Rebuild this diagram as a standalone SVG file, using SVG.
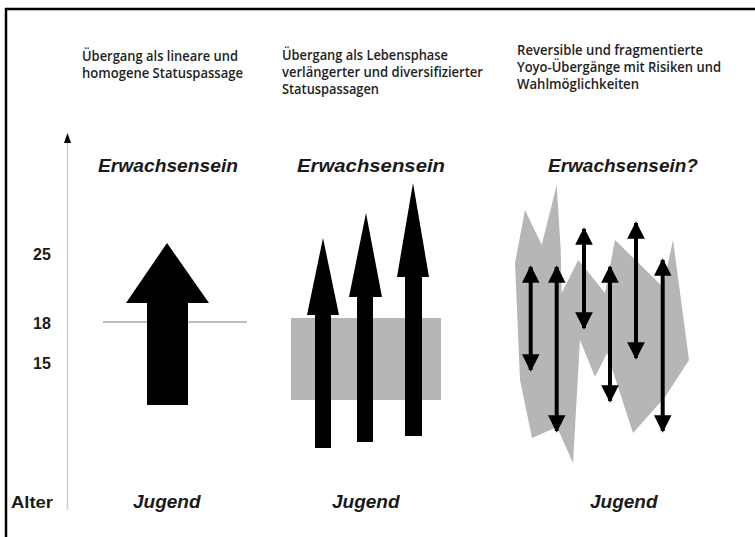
<svg xmlns="http://www.w3.org/2000/svg" width="755" height="537" viewBox="0 0 755 537">
<style>
.hdr{font-family:"Open Sans","Liberation Sans",Arial,sans-serif;font-size:13.5px;font-weight:600;fill:#1e1e1e}
.big{font-family:"Liberation Sans",Arial,sans-serif;font-size:19px;font-weight:bold;font-style:italic;fill:#1a1a1a}
.num{font-family:"Liberation Sans",Arial,sans-serif;font-size:16px;font-weight:bold;fill:#1a1a1a}
.blk{fill:#000}
.gray{fill:#b6b6b6}
</style>
<defs>
<marker id="ah" viewBox="0 0 10 10" refX="9" refY="5" markerWidth="4.4" markerHeight="4.4" orient="auto-start-reverse" markerUnits="strokeWidth">
<path d="M0,0 L10,5 L0,10 z" fill="#000"/>
</marker>
</defs>
<rect width="755" height="537" fill="#fff"/>
<g id="frame">
<path d="M6,537 L6,9 L755,9" fill="none" stroke="#000" stroke-width="2.5"/>
</g>
<g id="axis">
<line x1="67.5" y1="510" x2="67.5" y2="140" stroke="#cfcfcf" stroke-width="1.5"/>
<path d="M64,143 L67.5,133 L71,143 z" fill="#000"/>
<text class="num" x="33" y="260">25</text>
<text class="num" x="33" y="329">18</text>
<text class="num" x="33" y="369">15</text>
<text class="num" x="11" y="508" style="font-size:17px" textLength="42" lengthAdjust="spacingAndGlyphs">Alter</text>
</g>
<g id="col1">
<text class="hdr" x="82" y="61" textLength="156" lengthAdjust="spacingAndGlyphs">Übergang als lineare und</text>
<text class="hdr" x="82" y="78" textLength="161" lengthAdjust="spacingAndGlyphs">homogene Statuspassage</text>
<text class="big" x="98" y="172" textLength="140" lengthAdjust="spacingAndGlyphs">Erwachsensein</text>
<text class="big" x="133" y="508">Jugend</text>
<line x1="103" y1="322" x2="247" y2="322" stroke="#aaa" stroke-width="1.5"/>
<path class="blk" d="M167,243 L209,303 L188,303 L188,405 L147,405 L147,303 L126,303 z"/>
</g>
<g id="col2">
<text class="hdr" x="282" y="60" textLength="166" lengthAdjust="spacingAndGlyphs">Übergang als Lebensphase</text>
<text class="hdr" x="282" y="77" textLength="201" lengthAdjust="spacingAndGlyphs">verlängerter und diversifizierter</text>
<text class="hdr" x="282" y="94" textLength="97" lengthAdjust="spacingAndGlyphs">Statuspassagen</text>
<text class="big" x="297" y="172" textLength="148" lengthAdjust="spacingAndGlyphs">Erwachsensein</text>
<text class="big" x="332" y="508">Jugend</text>
<rect class="gray" x="291" y="318" width="150" height="82"/>
<path class="blk" d="M323,238 L339,315 L331,315 L331,448 L315,448 L315,315 L307,315 z"/>
<path class="blk" d="M366,213 L382,297 L373,297 L373,442 L357,442 L357,297 L349,297 z"/>
<path class="blk" d="M413,183 L429,277 L422,277 L422,436 L405,436 L405,277 L397,277 z"/>
</g>
<g id="col3">
<text class="hdr" x="517" y="55" textLength="186" lengthAdjust="spacingAndGlyphs">Reversible und fragmentierte</text>
<text class="hdr" x="517" y="72" textLength="204" lengthAdjust="spacingAndGlyphs">Yoyo-Übergänge mit Risiken und</text>
<text class="hdr" x="517" y="89" textLength="122" lengthAdjust="spacingAndGlyphs">Wahlmöglichkeiten</text>
<text class="big" x="548" y="172">Erwachsensein?</text>
<text class="big" x="590" y="508">Jugend</text>
<path class="gray" d="M525,210 L541.7,245 L556.7,185 L560.7,250 L561.7,293 L578.3,260 L605,293 L615,240 L663,287 L673,240 L689,360 L665,397 L633,433 L607,353 L595,377 L580,340 L573,463 L557,427 L532,438 L520,380 L515,263 z"/>
</g>
<g id="connectors" stroke="#000" stroke-width="4" fill="none">
<line x1="530.7" y1="267" x2="530.7" y2="370" marker-start="url(#ah)" marker-end="url(#ah)"/>
<line x1="556.7" y1="267" x2="556.7" y2="431" marker-start="url(#ah)" marker-end="url(#ah)"/>
<line x1="584" y1="229" x2="584" y2="328" marker-start="url(#ah)" marker-end="url(#ah)"/>
<line x1="610" y1="267" x2="610" y2="401" marker-start="url(#ah)" marker-end="url(#ah)"/>
<line x1="636" y1="223" x2="636" y2="358" marker-start="url(#ah)" marker-end="url(#ah)"/>
<line x1="662.7" y1="260" x2="662.7" y2="431" marker-start="url(#ah)" marker-end="url(#ah)"/>
</g>
</svg>
